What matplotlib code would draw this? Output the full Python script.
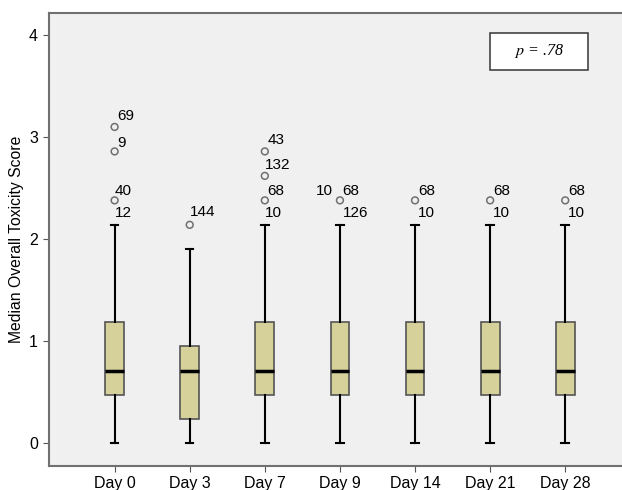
import numpy as np
import matplotlib.pyplot as plt
from matplotlib.patches import Rectangle

plt.rcParams['font.family'] = ['Liberation Sans', 'DejaVu Sans']
plt.rcParams['mathtext.fontset'] = 'stix'

# box statistics
days = ["Day 0", "Day 3", "Day 7", "Day 9", "Day 14", "Day 21", "Day 28"]
q1 = [0.47, 0.235, 0.47, 0.47, 0.47, 0.47, 0.47]
med = [0.71, 0.71, 0.71, 0.71, 0.71, 0.71, 0.71]
q3 = [1.19, 0.95, 1.19, 1.19, 1.19, 1.19, 1.19]
wlo = [0.0, 0.0, 0.0, 0.0, 0.0, 0.0, 0.0]
whi = [2.14, 1.905, 2.14, 2.14, 2.14, 2.14, 2.14]

# outliers: (box index, value)
out_x = [0, 0, 0, 1, 2, 2, 2, 3, 4, 5, 6]
out_y = [3.10, 2.86, 2.38, 2.14, 2.86, 2.62, 2.38, 2.38, 2.38, 2.38, 2.38]

# case labels: box index, value, text, offsets in points
lab_x = [0, 0, 0, 0, 1, 2, 2, 2, 2, 3, 3, 3, 4, 4, 5, 5, 6, 6]
lab_y = [3.10, 2.86, 2.38, 2.38, 2.14, 2.86, 2.62, 2.38, 2.38, 2.38, 2.38, 2.38,
         2.38, 2.38, 2.38, 2.38, 2.38, 2.38]
lab_t = ["69", "9", "40", "12", "144", "43", "132", "68", "10", "10", "68", "126",
         "68", "10", "68", "10", "68", "10"]
lab_dx = [2, 2, 0, 0, 0, 2, 0, 2, 0, -17, 2, 2, 2, 2, 2, 2, 2, 2]
lab_dy = [8, 6, 7, -9, 9, 8, 8, 7, -9, 7, 7, -9, 7, -9, 7, -9, 7, -9]

stats = []
for i in range(len(days)):
    stats.append(dict(med=med[i], q1=q1[i], q3=q3[i], whislo=wlo[i], whishi=whi[i],
                      fliers=[], label=days[i]))

fig = plt.figure(figsize=(6.22, 4.9), dpi=100)
ax = fig.add_axes([0.078, 0.049, 0.937, 0.925])
ax.set_facecolor('#f0f0f0')

pos = np.arange(len(days))
ax.bxp(stats, positions=pos, widths=0.25, patch_artist=True,
       boxprops=dict(facecolor='#d6d19a', edgecolor='#555555', linewidth=1.2),
       medianprops=dict(color='black', linewidth=2.5),
       whiskerprops=dict(color='black', linewidth=1.5),
       capprops=dict(color='black', linewidth=1.5),
       capwidths=0.1)

ax.scatter(pos[out_x], out_y, s=24, facecolors='none', edgecolors='#707070',
           linewidths=1.1, zorder=5)

for i in range(len(lab_t)):
    ax.annotate(lab_t[i], (pos[lab_x[i]], lab_y[i]), xytext=(lab_dx[i], lab_dy[i]),
                textcoords='offset points', ha='left', va='center', fontsize=11)

ax.set_xlim(-0.88, 6.88)
ax.set_ylim(-0.225, 4.22)
ax.set_yticks([0, 1, 2, 3, 4])
ax.set_xticks(pos)
ax.set_xticklabels(days)
ax.tick_params(labelsize=11.5, color='#555555', length=4)
ax.set_ylabel("Median Overall Toxicity Score", fontsize=11.3)
for s in ax.spines.values():
    s.set_color('#707070')
    s.set_linewidth(1.5)

# p-value box
fig.patches.append(Rectangle((0.788, 0.857), 0.157, 0.076, transform=fig.transFigure,
                             facecolor='white', edgecolor='#444444', linewidth=1.2))
fig.text(0.866, 0.895, r"$p$ = .78", ha='center', va='center', fontsize=11.5,
         family='Liberation Serif', fontstyle='italic')

fig.savefig("out.png", dpi=100)
